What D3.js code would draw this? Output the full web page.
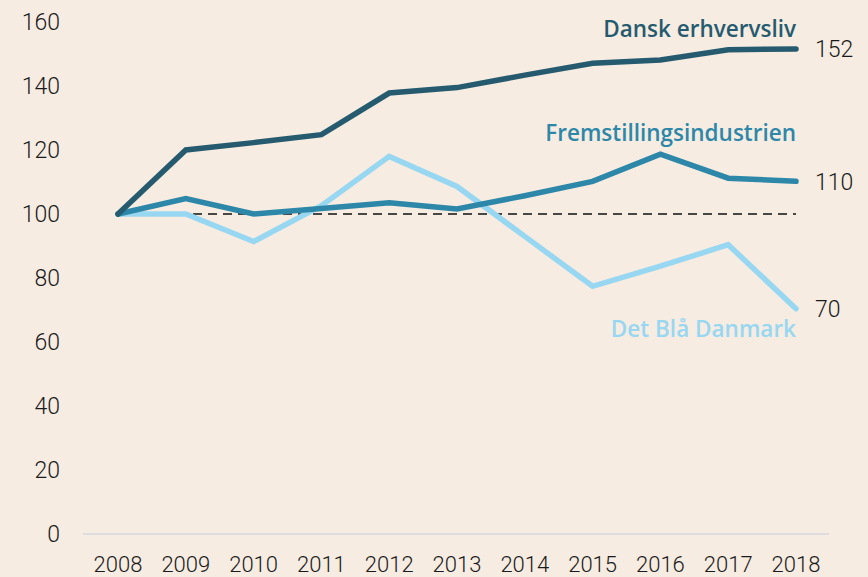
<!DOCTYPE html>
<html>
<head>
<meta charset="utf-8">
<script src="https://cdn.jsdelivr.net/npm/d3@7"></script>
<style>
  html, body { margin: 0; padding: 0; background: #f6ece2; }
  svg { display: block; font-family: Roboto, "Noto Sans", sans-serif; }
</style>
</head>
<body>
<div id="chart"></div>
<script>
const years = [2008, 2009, 2010, 2011, 2012, 2013, 2014, 2015, 2016, 2017, 2018];
const danskErhvervsliv = [100, 120, 122.3, 124.8, 137.8, 139.5, 143.4, 147.1, 148.1, 151.3, 151.6];
const fremstilling = [100, 104.8, 100, 101.7, 103.5, 101.6, 105.7, 110.2, 118.7, 111.2, 110.2];
const detBlaa = [100, 100, 91.4, 102.6, 118, 108.6, 93, 77.4, 83.7, 90.4, 70.4];
const seriesNames = ['Dansk erhvervsliv', 'Fremstillingsindustrien', 'Det Blå Danmark'];
const endLabels = ['152', '110', '70'];
const yTicks = [0, 20, 40, 60, 80, 100, 120, 140, 160];

const colors = ['#265b6f', '#2d87a8', '#98d7f1'];
// vertical offset (px) of each name relative to the line's last point
const nameOffsets = [-12, -40, 28];

const series = [danskErhvervsliv, fremstilling, detBlaa].map((values, i) => ({
  name: seriesNames[i],
  values: values,
  end: endLabels[i],
  color: colors[i],
  nameDy: nameOffsets[i]
}));

const width = 868;
const height = 577;

const svg = d3.select('#chart')
  .append('svg')
  .attr('width', width)
  .attr('height', height);

const x = d3.scaleLinear()
  .domain([2008, 2018])
  .range([118, 796]);

const y = d3.scaleLinear()
  .domain([0, 160])
  .range([534, 22]);

// bottom base line
svg.append('line')
  .attr('x1', 83).attr('x2', 829)
  .attr('y1', y(0)).attr('y2', y(0))
  .attr('stroke', '#dcdcdc')
  .attr('stroke-width', 2);

// y labels
svg.append('g')
  .selectAll('text')
  .data(yTicks)
  .enter()
  .append('text')
  .attr('x', 60)
  .attr('y', d => y(d))
  .attr('dy', '0.36em')
  .attr('text-anchor', 'end')
  .attr('font-size', 23)
  .attr('font-weight', 300)
  .attr('fill', '#1a1a1a')
  .text(d => d);

// x labels
svg.append('g')
  .selectAll('text')
  .data(years)
  .enter()
  .append('text')
  .attr('x', d => x(d))
  .attr('y', 572)
  .attr('text-anchor', 'middle')
  .attr('font-size', 22)
  .attr('font-weight', 300)
  .attr('fill', '#1a1a1a')
  .text(d => d);

// reference line at 100
svg.append('line')
  .attr('x1', x(2008)).attr('x2', x(2018))
  .attr('y1', y(100)).attr('y2', y(100))
  .attr('stroke', '#111')
  .attr('stroke-width', 1.5)
  .attr('stroke-dasharray', '9,6');

const line = d3.line()
  .x((d, i) => x(years[i]))
  .y(d => y(d));

// draw light series first so darker lines sit on top
series.slice().reverse().forEach(s => {
  svg.append('path')
    .datum(s.values)
    .attr('d', line)
    .attr('fill', 'none')
    .attr('stroke', s.color)
    .attr('stroke-width', 5.5)
    .attr('stroke-linejoin', 'miter')
    .attr('stroke-linecap', 'round');
});

// series names
svg.append('g')
  .selectAll('text')
  .data(series)
  .enter()
  .append('text')
  .attr('x', x(2018))
  .attr('y', d => y(d.values[d.values.length - 1]) + d.nameDy)
  .attr('text-anchor', 'end')
  .attr('font-family', '"Open Sans", sans-serif')
  .attr('font-size', 22.5)
  .attr('font-weight', 600)
  .attr('fill', d => d.color)
  .text(d => d.name);

// end values
svg.append('g')
  .selectAll('text')
  .data(series)
  .enter()
  .append('text')
  .attr('x', 815)
  .attr('y', d => y(d.values[d.values.length - 1]))
  .attr('dy', '0.36em')
  .attr('font-size', 23)
  .attr('font-weight', 300)
  .attr('fill', '#1a1a1a')
  .text(d => d.end);
</script>
</body>
</html>
